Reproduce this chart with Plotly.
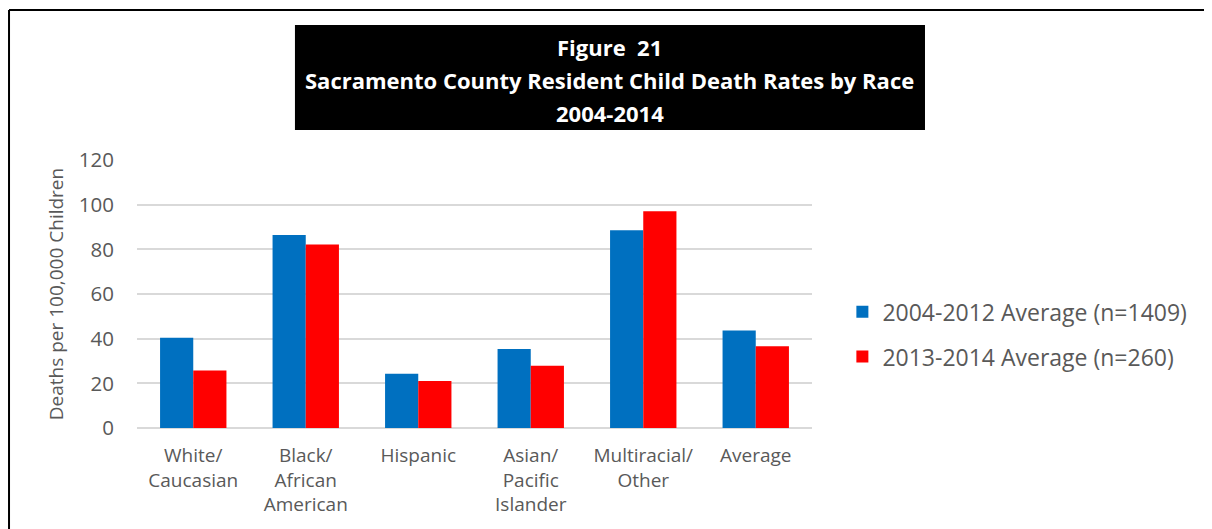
import plotly.graph_objects as go

# chart data
categories = ["White/<br>Caucasian", "Black/<br>African<br>American", "Hispanic",
              "Asian/<br>Pacific<br>Islander", "Multiracial/<br>Other", "Average"]
avg_2004_2012 = [40.4, 86.4, 24.3, 35.4, 88.5, 43.7]
avg_2013_2014 = [25.8, 82.2, 21.0, 27.9, 97.0, 36.6]
series_names = ["2004-2012 Average (n=1409)", "2013-2014 Average (n=260)"]
y_ticks = [0, 20, 40, 60, 80, 100, 120]
title_lines = ["Figure  21", "Sacramento County Resident Child Death Rates by Race", "2004-2014"]

font_family = "Open Sans, Liberation Sans, sans-serif"
gray = "#595959"

fig = go.Figure()
fig.add_trace(go.Bar(x=categories, y=avg_2004_2012, name=series_names[0],
                     legendgroup="a",
                     marker=dict(color="#0070C0", line=dict(width=0))))
fig.add_trace(go.Bar(x=categories, y=avg_2013_2014, name=series_names[1],
                     legendgroup="b",
                     marker=dict(color="#FF0000", line=dict(width=0))))

# page body adds 8px margin, so figure is 8px smaller than the window
fig.update_layout(
    width=1204, height=521,
    margin=dict(l=129, r=400, t=152, b=101),
    paper_bgcolor="white", plot_bgcolor="white",
    barmode="group", bargap=0.41, bargroupgap=0,
    font=dict(family=font_family, color=gray),
    showlegend=True,
    legend=dict(x=1.045, y=0.35, xanchor="left", yanchor="middle",
                font=dict(size=23, color=gray), tracegroupgap=12),
)

fig.update_yaxes(range=[0, 120], tickvals=y_ticks, showgrid=True,
                 gridcolor="#d9d9d9", gridwidth=1.5, zeroline=True,
                 zerolinecolor="#d9d9d9", zerolinewidth=1.5,
                 tickfont=dict(size=20.5, color=gray), ticks="",
                 ticklabelstandoff=22,
                 title=dict(text="Deaths per 100,000 Children",
                            font=dict(size=19, color=gray), standoff=10))
fig.update_xaxes(tickfont=dict(size=19, color=gray), showline=False, ticks="",
                 ticklabelstandoff=14)

# outer frame (left and top edges)
fig.add_shape(type="line", xref="paper", yref="paper",
              x0=-0.1896, y0=1.56, x1=1.7, y1=1.56, line=dict(color="black", width=2))
fig.add_shape(type="line", xref="paper", yref="paper",
              x0=-0.1896, y0=1.56, x1=-0.1896, y1=-0.5, line=dict(color="black", width=2))

# black title box
fig.add_shape(type="rect", xref="paper", yref="paper",
              x0=0.234, x1=1.1674, y0=1.112, y1=1.5037,
              fillcolor="black", line=dict(width=0), layer="above")
for line_text, ypos in zip(title_lines, [1.4216, 1.2985, 1.1754]):
    fig.add_annotation(xref="paper", yref="paper", x=0.7007, y=ypos,
                       xanchor="center", yanchor="middle", showarrow=False,
                       text="<b>%s</b>" % line_text,
                       font=dict(size=22, color="white", family=font_family))

fig.write_html("out.html")
